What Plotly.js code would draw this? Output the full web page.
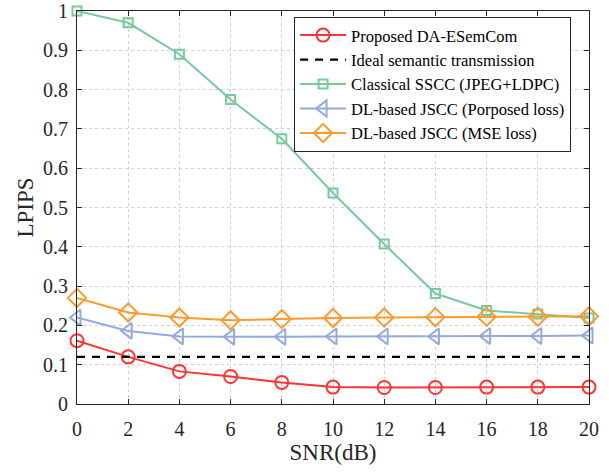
<!DOCTYPE html>
<html>
<head>
<meta charset="utf-8">
<script src="https://cdn.plot.ly/plotly-3.0.1.min.js"></script>
<style>html,body{margin:0;padding:0;background:#fff;}</style>
</head>
<body>
<div id="chart" style="width:609px;height:472px;"></div>
<script>
const snr = [0, 2, 4, 6, 8, 10, 12, 14, 16, 18, 20];
const proposed = [0.161, 0.120, 0.083, 0.070, 0.055, 0.043, 0.042, 0.042, 0.043, 0.043, 0.043];
const ideal = [0.120, 0.120, 0.120, 0.120, 0.120, 0.120, 0.120, 0.120, 0.120, 0.120, 0.120];
const sscc = [1.0, 0.97, 0.89, 0.775, 0.675, 0.537, 0.407, 0.281, 0.238, 0.229, 0.219];
const jsccProp = [0.220, 0.186, 0.172, 0.171, 0.171, 0.172, 0.172, 0.172, 0.173, 0.173, 0.174];
const jsccMse = [0.270, 0.233, 0.220, 0.213, 0.216, 0.219, 0.220, 0.221, 0.222, 0.222, 0.223];
const names = ['Proposed DA-ESemCom', 'Ideal semantic transmission', 'Classical SSCC (JPEG+LDPC)', 'DL-based JSCC (Porposed loss)', 'DL-based JSCC (MSE loss)'];
const xTicks = [0, 2, 4, 6, 8, 10, 12, 14, 16, 18, 20];
const yTicks = [0, 0.1, 0.2, 0.3, 0.4, 0.5, 0.6, 0.7, 0.8, 0.9, 1];
const yTickText = ['0', '0.1', '0.2', '0.3', '0.4', '0.5', '0.6', '0.7', '0.8', '0.9', '1'];

const font = 'Liberation Serif';
const traces = [
  {x: snr, y: proposed, name: names[0], mode: 'lines+markers',
   line: {color: '#ff3333', width: 2}, marker: {symbol: 'circle-open', size: 13, color: '#ff3333', line: {width: 2}}},
  {x: snr, y: ideal, name: names[1], mode: 'lines',
   line: {color: '#000000', width: 2.2, dash: '8px,7px'}},
  {x: snr, y: sscc, name: names[2], mode: 'lines+markers',
   line: {color: '#78c99b', width: 2}, marker: {symbol: 'square-open', size: 9, color: '#78c99b', line: {width: 2}}},
  {x: snr, y: jsccProp, name: names[3], mode: 'lines+markers',
   line: {color: '#93a9e0', width: 2}, marker: {symbol: 'triangle-left-open', size: 14, color: '#93a9e0', line: {width: 2}}},
  {x: snr, y: jsccMse, name: names[4], mode: 'lines+markers',
   line: {color: '#ff9a2e', width: 2}, marker: {symbol: 'diamond-open', size: 14, color: '#ff9a2e', line: {width: 2}}}
];
traces.forEach(t => t.cliponaxis = false);

const axisCommon = {
  showline: true, linecolor: '#262626', linewidth: 1, mirror: 'ticks',
  ticks: 'inside', ticklen: 5, tickcolor: '#262626', tickwidth: 1,
  showgrid: true, gridcolor: '#d0d0d0', griddash: 'dot', gridwidth: 1,
  zeroline: false, tickfont: {family: font, size: 20, color: '#262626'}
};

const layout = {
  width: 609, height: 472,
  margin: {l: 77, r: 20, t: 11, b: 68},
  paper_bgcolor: '#ffffff', plot_bgcolor: '#ffffff',
  font: {family: font, color: '#262626'},
  xaxis: Object.assign({}, axisCommon, {range: [0, 20], tickvals: xTicks, ticklabelstandoff: 7,
    title: {text: 'SNR(dB)', font: {family: font, size: 23, color: '#262626'}, standoff: 0}}),
  yaxis: Object.assign({}, axisCommon, {range: [0, 1], tickvals: yTicks, ticktext: yTickText, ticklabelstandoff: 4,
    title: {text: 'LPIPS', font: {family: font, size: 23, color: '#262626'}, standoff: 2}}),
  showlegend: true,
  legend: {x: 0.424, y: 0.985, xanchor: 'left', yanchor: 'top',
    bgcolor: '#ffffff', bordercolor: '#262626', borderwidth: 1,
    font: {family: font, size: 16.5, color: '#000'}, tracegroupgap: 0, itemwidth: 46}
};

Plotly.newPlot('chart', traces, layout, {displayModeBar: false, staticPlot: true});
</script>
</body>
</html>
